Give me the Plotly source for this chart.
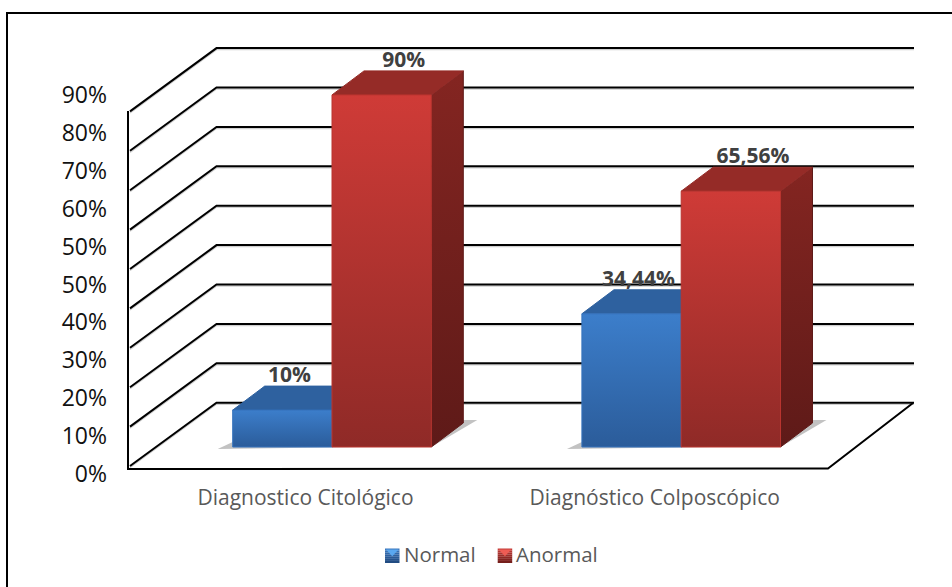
import plotly.graph_objects as go

# Chart values
categories = ["Diagnostico Citológico", "Diagnóstico Colposcópico"]
normal_values = [10, 34.44]
anormal_values = [90, 65.56]
grid_values = [0, 10, 20, 30, 40, 50, 60, 70, 80, 90]
tick_values = [0, 9, 18, 27, 36, 45, 54, 63, 72, 81, 90]
tick_labels = ["0%", "10%", "20%", "30%", "40%", "50%", "50%", "60%", "70%", "80%", "90%"]

WIDTH, HEIGHT = 952, 587
PLOT_LEFT, PLOT_BOTTOM = 127, 482

# Scales: pixels per category and per percentage point
PX_PER_CAT = 349.2
PX_PER_PCT = 3.94
CAT0_PX = 305.5      # pixel column of the first category label
BASE_PX = 449.5      # pixel row of 0% on the front plane of the bars


def xd(px):
    return (px - CAT0_PX) / PX_PER_CAT


def yd(px):
    return (BASE_PX - px) / PX_PER_PCT


def dx(px):
    return px / PX_PER_CAT


def dy(px):
    return px / PX_PER_PCT


BAR_W = dx(99.3)
GROUP_SHIFT = dx(26.5)
DEPTH_X, DEPTH_Y = dx(32), dy(24)
BAR_FOOT = dy(2.5)

WALL_BACK = dy(BASE_PX - 402.7)
WALL_FRONT = -dy(466 - BASE_PX)

fig = go.Figure()


def path_trace(xs, ys, color, width):
    return go.Scatter(x=xs, y=ys, mode="lines", line=dict(color=color, width=width),
                      showlegend=False, hoverinfo="skip", cliponaxis=False)


# Wall and floor grid lines, each with a faint lower edge
gx, gy = [], []
for v in grid_values:
    gx += [xd(130), xd(216.5), xd(914), None]
    gy += [v + WALL_FRONT, v + WALL_BACK, v + WALL_BACK, None]
fig.add_trace(path_trace(gx, [None if y is None else y - dy(1.5) for y in gy], "#cfcfcf", 1.5))
fig.add_trace(path_trace(gx, gy, "#000000", 2))

# Axis post and floor outline
fig.add_trace(path_trace([xd(128), xd(128), xd(828), xd(913)],
                         [yd(111), yd(469), yd(468.5), yd(403)], "#000000", 2))


def polygon(xs, ys, top, bottom, edge=None):
    fig.add_trace(go.Scatter(
        x=xs + xs[:1], y=ys + ys[:1], mode="lines", fill="toself",
        line=dict(color=edge or bottom, width=1),
        fillgradient=dict(type="vertical", colorscale=[[0, bottom], [1, top]]),
        showlegend=False, hoverinfo="skip"))


# Floor shadows under each pair of bars
for i in range(len(categories)):
    left = i + GROUP_SHIFT - BAR_W
    right = i + GROUP_SHIFT + BAR_W
    low = BAR_FOOT
    sx = [left - dx(15), left, left, right, right + dx(46), right + dx(32), right, left]
    sy = [low - dy(2), low + dy(5), low, low, low + dy(27), low + dy(27), low + dy(1), low - dy(2)]
    fig.add_trace(go.Scatter(x=sx + sx[:1], y=sy + sy[:1], mode="lines", fill="toself",
                             line=dict(width=0, color="rgba(0,0,0,0)"),
                             fillcolor="rgba(120,120,120,0.45)",
                             showlegend=False, hoverinfo="skip"))


def bars(values, offset, face, top_face, side, edge):
    for i, v in enumerate(values):
        x0 = i + GROUP_SHIFT + offset
        x1 = x0 + BAR_W
        low = BAR_FOOT
        polygon([x1, x1 + DEPTH_X, x1 + DEPTH_X, x1],
                [low, low + DEPTH_Y, v + DEPTH_Y, v], side[0], side[1])
        polygon([x0, x0 + DEPTH_X, x1 + DEPTH_X, x1],
                [v, v + DEPTH_Y, v + DEPTH_Y, v], top_face, top_face)
        polygon([x0, x1, x1, x0], [low, low, v, v], face[0], face[1], edge)


bars(normal_values, -BAR_W, ("#3c7ecb", "#2b5c9a"), "#2e619f", ("#23497a", "#1b3a62"), "#3673bd")
bars(anormal_values, 0, ("#cf3b37", "#8f2a27"), "#952b27", ("#842521", "#5e1a18"), "#b9342f")


def label_text(v):
    return f"{v:g}%".replace(".", ",")


# Value labels above the back edge of each bar
for values, offset, shift in ((normal_values, -BAR_W, dx(7)), (anormal_values, 0, dx(22))):
    fig.add_trace(go.Scatter(
        x=[i + GROUP_SHIFT + offset + BAR_W / 2 + shift for i in range(len(values))],
        y=[v + DEPTH_Y + dy(9) for v in values],
        mode="text", text=[label_text(v) for v in values], textposition="middle center",
        textfont=dict(family="Open Sans", size=21, color="#404040", weight="bold"),
        showlegend=False, hoverinfo="skip", cliponaxis=False))

# Legend entries, one legend box each; the swatches are drawn as shapes so they can carry a bevel
fig.add_trace(go.Scatter(x=[None], y=[None], mode="markers", name="Normal", legend="legend",
                         marker=dict(symbol="square", size=14, color="rgba(0,0,0,0)")))
fig.add_trace(go.Scatter(x=[None], y=[None], mode="markers", name="Anormal", legend="legend2",
                         marker=dict(symbol="square", size=14, color="rgba(0,0,0,0)")))

# Percentage scale carried by its own axis
fig.add_trace(go.Scatter(x=[xd(130)] * len(tick_values), y=tick_values, yaxis="y2",
                         mode="markers", marker=dict(opacity=0),
                         showlegend=False, hoverinfo="skip"))

plot_w = WIDTH - PLOT_LEFT


def paper_x(px):
    return (px - PLOT_LEFT) / plot_w


def paper_y(py):
    return 1 - py / PLOT_BOTTOM


def swatch(left, top_color, bottom_color, light):
    """Square legend icon: vertical bands of a gradient with a lighter notch on top."""
    size, top, bands = 14.5, 548.5, 7
    out = []
    t0, t1 = [int(top_color[i:i + 2], 16) for i in (1, 3, 5)], [int(bottom_color[i:i + 2], 16) for i in (1, 3, 5)]
    for b in range(bands):
        f = b / (bands - 1)
        c = "rgb(%d,%d,%d)" % tuple(round(p + (q - p) * f) for p, q in zip(t0, t1))
        out.append(dict(type="rect", xref="paper", yref="paper", layer="above",
                        x0=paper_x(left), x1=paper_x(left + size),
                        y0=paper_y(top + size * b / bands), y1=paper_y(top + size * (b + 1) / bands),
                        fillcolor=c, line=dict(width=0)))
    out.append(dict(type="path", xref="paper", yref="paper", layer="above", fillcolor=light,
                    line=dict(width=0),
                    path=f"M {paper_x(left + 1)} {paper_y(top + 1)} L {paper_x(left + size - 1)} {paper_y(top + 1)} "
                         f"L {paper_x(left + size / 2)} {paper_y(top + size / 2 + 0.5)} Z"))
    return out


shapes = [dict(type="path", xref="paper", yref="paper",
               path=f"M {paper_x(7)} {paper_y(HEIGHT)} L {paper_x(7)} {paper_y(13)} "
                    f"L {paper_x(WIDTH)} {paper_y(13)}",
               line=dict(color="#000000", width=2))]
shapes += swatch(385, "#3a76bd", "#224c82", "#5aa8f0")
shapes += swatch(497.7, "#c23c38", "#761f1c", "#ee5c54")

legend_style = dict(orientation="h", y=paper_y(554), xanchor="left", yanchor="middle",
                    font=dict(family="Open Sans", size=20.5, color="#595959"),
                    bgcolor="rgba(0,0,0,0)")

fig.update_layout(
    width=WIDTH, height=HEIGHT,
    margin=dict(l=PLOT_LEFT, r=0, t=0, b=HEIGHT - PLOT_BOTTOM, autoexpand=False),
    paper_bgcolor="white", plot_bgcolor="white",
    xaxis=dict(range=[xd(PLOT_LEFT), xd(WIDTH)], tickmode="array", tickvals=[0, 1],
               ticktext=categories, showgrid=False, zeroline=False, showline=False,
               ticks="", ticklabelstandoff=1,
               tickfont=dict(family="Open Sans", size=21, color="#595959")),
    yaxis=dict(range=[yd(PLOT_BOTTOM), yd(0)], visible=False),
    yaxis2=dict(overlaying="y", side="left", anchor="x", showgrid=False, zeroline=False,
                showline=False, ticks="", tickmode="array", tickvals=tick_values,
                ticktext=tick_labels, ticklabelstandoff=19,
                range=[-(PLOT_BOTTOM - 474) * 90 / 379, 90 + 95 * 90 / 379],
                tickfont=dict(family="Open Sans", size=23, color="#111111")),
    legend=dict(x=paper_x(405 - 41), **legend_style),
    legend2=dict(x=paper_x(517 - 41), **legend_style),
    shapes=shapes,
    hovermode=False,
)

fig.write_html("out.html")
